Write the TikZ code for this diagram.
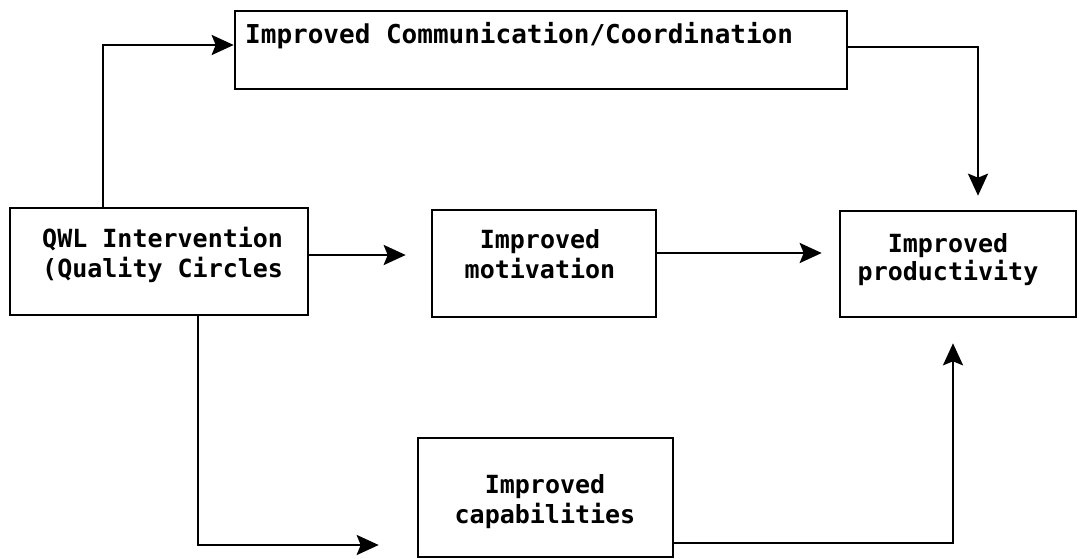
\documentclass[tikz,border=0pt]{standalone}
\usepackage{fontspec}
\setmonofont{DejaVu Sans Mono}
\usetikzlibrary{arrows.meta}
\begin{document}
\begin{tikzpicture}[x=1pt,y=-1pt,
  box/.style={draw, line width=2.6pt, inner sep=0pt, anchor=center},
  lbl/.style={font=\ttfamily\bfseries\fontsize{25}{30}\selectfont, inner sep=0pt},
  arr/.style={line width=2.6pt, -{Stealth[length=22pt,width=20pt,inset=4pt]}}]
\useasboundingbox (0,0) rectangle (1079,559);
% boxes
\node[box, minimum width=612pt, minimum height=78pt] (comm) at (541,50) {};
\node[box, minimum width=298pt, minimum height=107pt] (qwl) at (159,261.5) {};
\node[box, minimum width=224pt, minimum height=107pt] (mot) at (544,263.5) {};
\node[box, minimum width=236pt, minimum height=106pt] (prod) at (958,264) {};
\node[box, minimum width=255pt, minimum height=119pt] (cap) at (545.5,497.5) {};
% labels
\node[lbl, anchor=base west, font=\ttfamily\bfseries\fontsize{26}{30}\selectfont] (commt) at (245,44) {Improved Communication/Coordination};
\node[lbl, anchor=base west] (qwl1) at (42,247) {QWL Intervention};
\node[lbl, anchor=base west] (qwl2) at (42,277) {(Quality Circles};
\node[lbl, anchor=base] (mot1) at (540,248) {Improved};
\node[lbl, anchor=base] (mot2) at (540,278) {motivation};
\node[lbl, anchor=base] (prod1) at (948,252) {Improved};
\node[lbl, anchor=base] (prod2) at (948,280) {productivity};
\node[lbl, anchor=base] (cap1) at (545,493) {Improved};
\node[lbl, anchor=base] (cap2) at (545,523) {capabilities};
% connector helpers
\coordinate (k1) at (103,45);
\coordinate (k2) at (978,47);
\coordinate (k3) at (0,255);
\coordinate (k4) at (0,253);
\coordinate (k5) at (198,545);
\coordinate (k6) at (953,543);
% connectors
\draw[arr] (k1 |- qwl.north) -- (k1) -- (k1 -| comm.west);
\draw[arr, shorten >=14pt] (k2 -| comm.east) -- (k2) -- (k2 |- prod.north);
\draw[arr, shorten >=25pt] (k3 -| qwl.east) -- (k3 -| mot.west);
\draw[arr, shorten >=17pt] (k4 -| mot.east) -- (k4 -| prod.west);
\draw[arr, shorten >=38pt] (k5 |- qwl.south) -- (k5) -- (k5 -| cap.west);
\draw[arr, shorten >=25pt] (k6 -| cap.east) -- (k6) -- (k6 |- prod.south);
\end{tikzpicture}
\end{document}
